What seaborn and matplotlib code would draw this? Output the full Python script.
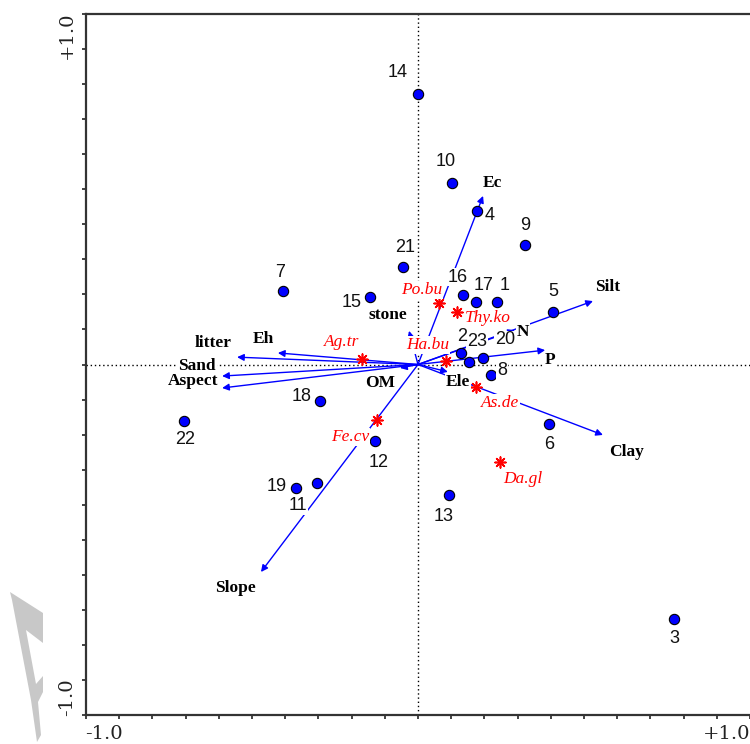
import numpy as np
import pandas as pd
import matplotlib
matplotlib.use("Agg")
import matplotlib.pyplot as plt
import seaborn as sns
from matplotlib.patches import Polygon

# ---------------- data ----------------
site_labels = [str(i) for i in range(1, 24)]
site_x = [0.238, 0.130, 0.771, 0.178, 0.407, 0.395, -0.407, 0.220, 0.322, 0.102,
          -0.304, -0.130, 0.093, 0.000, -0.145, 0.136, 0.175, -0.295, -0.367, 0.196,
          -0.045, -0.705, 0.154]
site_y = [0.178, 0.033, -0.726, 0.438, 0.150, -0.170, 0.210, -0.030, 0.341, 0.518,
          -0.338, -0.218, -0.372, 0.772, 0.193, 0.198, 0.178, -0.104, -0.352, 0.019,
          0.278, -0.161, 0.007]

species_names = ["Po.bu", "Thy.ko", "Ha.bu", "Ag.tr", "Fe.cv", "As.de", "Da.gl"]
species_x = [0.063, 0.117, 0.084, -0.169, -0.123, 0.175, 0.247]
species_y = [0.175, 0.150, 0.010, 0.016, -0.158, -0.064, -0.278]

env_names = ["Ec", "Silt", "N", "P", "Ele", "Clay", "Slope", "OM", "litter", "Eh",
             "Sand", "Aspect", "stone"]
env_x = [0.196, 0.527, 0.292, 0.383, 0.090, 0.557, -0.473, -0.054, -0.545, -0.422,
         -0.590, -0.590, -0.027]
env_y = [0.481, 0.181, 0.098, 0.041, -0.021, -0.201, -0.592, -0.010, 0.021, 0.033,
         -0.033, -0.067, 0.096]

axis_min_label = "-1.0"
axis_max_label = "+1.0"

# ---------------- label offsets (pixels, y up) ----------------
site_off = {"1": (8, 17), "2": (1, 16), "3": (0, -20), "4": (13, -5), "5": (0, 20),
            "6": (0, -20), "7": (-3, 18), "8": (11, 5), "9": (0, 19), "10": (-6, 21),
            "11": (-19, -23), "12": (4, -22), "13": (-5, -22), "14": (-20, 21),
            "15": (-18, -6), "16": (-5, 18), "17": (7, 17), "18": (-18, 4),
            "19": (-19, 1), "20": (22, 18), "21": (2, 20), "22": (1, -19), "23": (8, 21)}
species_off = {"Po.bu": (-17, 13), "Thy.ko": (31, -6), "Ha.bu": (-18, 16),
               "Ag.tr": (-20, 17), "Fe.cv": (-27, -17), "As.de": (24, -16),
               "Da.gl": (23, -17)}
env_off = {"Ec": (9, 13), "Silt": (15, 14), "N": (8, -2), "P": (5, -10),
           "Ele": (10, -10), "Clay": (24, -17), "Slope": (-26, -16), "OM": (-20, -15),
           "litter": (-24, 14), "Eh": (-15, 14), "Sand": (-25, 10), "Aspect": (-29, 7),
           "stone": (-21, 16)}
label_on_top = {"2"}

sites = pd.DataFrame({"label": site_labels, "x": site_x, "y": site_y})
species = pd.DataFrame({"name": species_names, "x": species_x, "y": species_y})
env = pd.DataFrame({"name": env_names, "x": env_x, "y": env_y})

# ---------------- figure ----------------
sns.set_style("white")
fig = plt.figure(figsize=(7.5, 7.44), dpi=100)
fig.patch.set_facecolor("white")
ax = fig.add_axes([86 / 750, 29 / 744, 664 / 750, 701 / 744])
ax.set_xlim(-1, 1)
ax.set_ylim(-1, 1)

for side in ["left", "bottom", "top"]:
    ax.spines[side].set_color("#333333")
    ax.spines[side].set_linewidth(1.6)
ax.spines["right"].set_visible(False)

ticks = np.linspace(-1, 1, 21)
ax.set_xticks(ticks)
ax.set_yticks(ticks)
ax.set_xticklabels([])
ax.set_yticklabels([])
ax.tick_params(direction="out", length=3, width=1.2, color="#222222",
               bottom=True, left=True, top=False, right=False)

# dotted zero lines
ax.axhline(0, color="black", ls=(0, (1, 2)), lw=1, zorder=1)
ax.axvline(0, color="black", ls=(0, (1, 2)), lw=1, zorder=1)

# environmental arrows
for _, r in env.iterrows():
    ax.annotate("", xy=(r.x, r.y), xytext=(0, 0),
                arrowprops=dict(arrowstyle="-|>", color="#0000ff", lw=1.0,
                                mutation_scale=10, shrinkA=0, shrinkB=0),
                zorder=2)

# sites
sns.scatterplot(data=sites, x="x", y="y", ax=ax, color="#0000ff", edgecolor="black",
                linewidth=0.8, s=55, marker="o", zorder=3, legend=False)
# species
sns.scatterplot(data=species, x="x", y="y", ax=ax, color="red", marker=(8, 2, 0),
                s=60, linewidth=1.2, zorder=3, legend=False)

box = dict(facecolor="white", edgecolor="none", pad=0.5)

for _, r in sites.iterrows():
    ax.annotate(r.label, xy=(r.x, r.y), xytext=site_off[r.label],
                textcoords="offset pixels", ha="center", va="center",
                fontsize=13, family="Liberation Sans", color="#111111",
                bbox=box, zorder=5 if r.label in label_on_top else 4)

for _, r in species.iterrows():
    ax.annotate(r["name"], xy=(r.x, r.y), xytext=species_off[r["name"]],
                textcoords="offset pixels", ha="center", va="center",
                fontsize=12.5, family="Liberation Serif", style="italic",
                color="red", bbox=box, zorder=4)

for _, r in env.iterrows():
    ax.annotate(r["name"], xy=(r.x, r.y), xytext=env_off[r["name"]],
                textcoords="offset pixels", ha="center", va="center",
                fontsize=12.5, family="Liberation Serif", weight="bold",
                color="black", bbox=box, zorder=4)

ax.set_xlabel("")
ax.set_ylabel("")

# axis range labels
lab_kw = dict(fontsize=14, family="DejaVu Serif", color="#222222")
fig.text(67 / 750, 1 - 35 / 744, axis_max_label, rotation=90, ha="center", va="center", **lab_kw)
fig.text(67 / 750, 1 - 697 / 744, axis_min_label, rotation=90, ha="center", va="center", **lab_kw)
fig.text(104 / 750, 1 - 734 / 744, axis_min_label, ha="center", va="center", **lab_kw)
fig.text(727 / 750, 1 - 734 / 744, axis_max_label, ha="center", va="center", **lab_kw)

# grey watermark fragment at bottom-left
wm_px = [(10, 592), (43, 613), (43, 643), (26, 630), (36, 684), (43, 676), (43, 692),
         (38, 702), (41, 735), (37, 742), (31, 700), (12, 600)]
wm = Polygon([(px / 750, 1 - py / 744) for px, py in wm_px], closed=True,
             transform=fig.transFigure, facecolor="#c8c8c8", edgecolor="none")
fig.patches.append(wm)

fig.savefig("out.png", dpi=100)
